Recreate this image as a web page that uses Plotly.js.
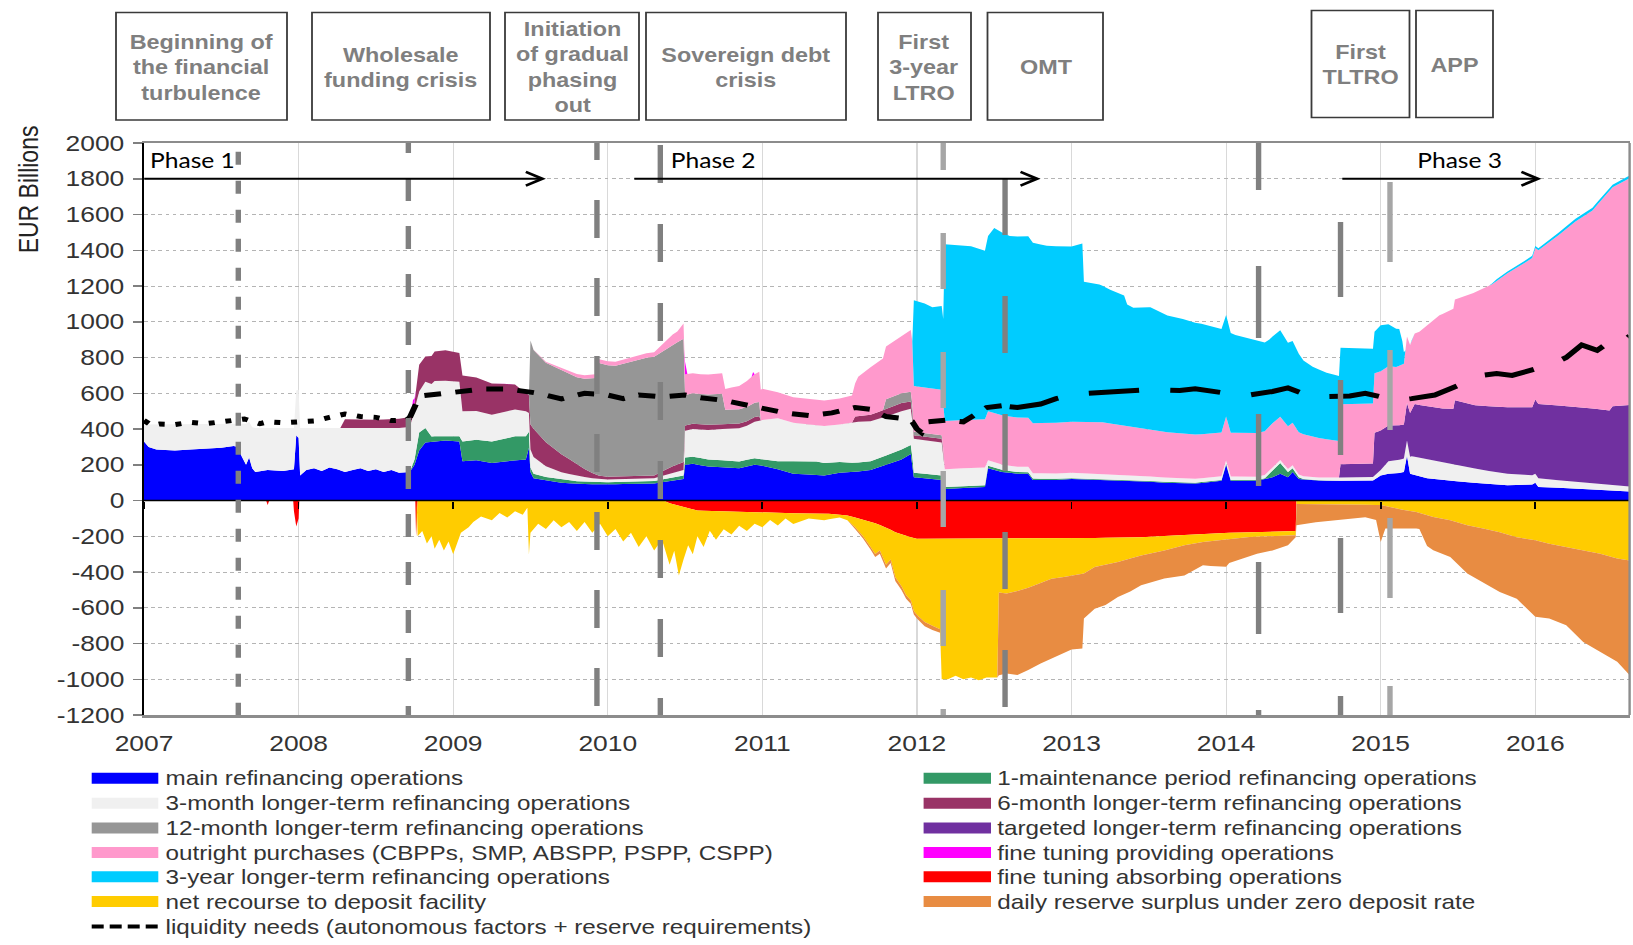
<!DOCTYPE html>
<html><head><meta charset="utf-8">
<script src="https://cdn.plot.ly/plotly-3.0.1.min.js"></script>
<style>
html,body{margin:0;padding:0;overflow:hidden;background:#fff;width:1633px;height:945px}
#wrap{width:1361px;height:945px;transform:scaleX(1.2);transform-origin:0 0}
#chart{width:1361px;height:945px}
</style></head><body><div id="wrap"><div id="chart"></div></div>
<script>
// ---------------- DATA (EUR billions, x = decimal year) ----------------
const yearTicks = [2007,2008,2009,2010,2011,2012,2013,2014,2015,2016];
const yTicks = [-1200,-1000,-800,-600,-400,-200,0,200,400,600,800,1000,1200,1400,1600,1800,2000];

const mroPts = [[2007.00,330],[2007.03,300],[2007.08,285],[2007.2,280],[2007.3,285],[2007.4,290],[2007.5,295],[2007.58,305],[2007.61,300],[2007.63,250],[2007.66,200],[2007.68,240],[2007.70,180],[2007.72,160],[2007.8,170],[2007.9,165],[2007.97,175],[2007.985,365],[2008.0,350],[2008.01,140],[2008.05,170],[2008.1,180],[2008.15,165],[2008.2,185],[2008.25,175],[2008.3,160],[2008.35,170],[2008.4,180],[2008.45,165],[2008.5,175],[2008.55,160],[2008.6,170],[2008.65,155],[2008.70,160],[2008.72,160],[2008.75,200],[2008.78,280],[2008.82,325],[2008.88,330],[2008.95,335],[2009.04,330],[2009.06,220],[2009.15,225],[2009.25,210],[2009.35,220],[2009.47,230],[2009.49,295],[2009.50,160],[2009.52,125],[2009.6,112],[2009.7,100],[2009.8,93],[2009.95,90],[2010.1,92],[2010.3,95],[2010.4,110],[2010.49,120],[2010.50,200],[2010.55,205],[2010.65,190],[2010.75,185],[2010.85,180],[2010.95,200],[2011.0,195],[2011.1,175],[2011.2,150],[2011.3,145],[2011.4,140],[2011.5,155],[2011.6,160],[2011.7,170],[2011.8,200],[2011.9,230],[2011.96,260],[2011.98,130],[2012.1,120],[2012.16,115],[2012.18,65],[2012.3,70],[2012.44,75],[2012.46,180],[2012.55,160],[2012.65,150],[2012.72,150],[2012.75,115],[2012.9,115],[2013.0,120],[2013.2,115],[2013.4,110],[2013.6,100],[2013.8,95],[2013.97,110],[2014.0,200],[2014.03,110],[2014.2,110],[2014.3,130],[2014.35,150],[2014.4,130],[2014.43,160],[2014.47,120],[2014.56,112],[2014.72,110],[2014.95,112],[2015.0,140],[2015.05,150],[2015.1,150],[2015.15,160],[2015.17,250],[2015.19,150],[2015.3,125],[2015.4,115],[2015.6,100],[2015.8,85],[2015.98,90],[2016.0,100],[2016.02,75],[2016.2,70],[2016.4,60],[2016.61,50]];

const oneMpPts = [[2007.0,0],[2008.72,0],[2008.75,30],[2008.78,100],[2008.82,80],[2008.86,30],[2008.95,25],[2009.04,30],[2009.06,110],[2009.25,120],[2009.40,135],[2009.47,130],[2009.49,90],[2009.50,25],[2009.6,20],[2009.8,15],[2010.0,12],[2010.4,15],[2010.49,20],[2010.50,40],[2010.8,40],[2011.0,35],[2011.1,45],[2011.2,70],[2011.35,75],[2011.5,60],[2011.6,50],[2011.75,50],[2011.9,55],[2011.97,50],[2011.98,25],[2012.16,25],[2012.18,10],[2012.44,10],[2012.46,15],[2012.6,10],[2012.8,7],[2013.0,5],[2014.25,5],[2014.3,40],[2014.35,60],[2014.4,30],[2014.45,15],[2014.5,3],[2014.7,0],[2016.61,0]];

const ltro3mPts = [[2007.0,95],[2007.03,125],[2007.08,140],[2007.2,145],[2007.3,140],[2007.4,135],[2007.5,130],[2007.58,120],[2007.61,130],[2007.63,180],[2007.66,230],[2007.68,200],[2007.70,230],[2007.72,245],[2007.8,235],[2007.9,240],[2007.97,230],[2007.985,250],[2008.0,270],[2008.01,265],[2008.05,235],[2008.1,225],[2008.15,240],[2008.2,220],[2008.25,230],[2008.3,245],[2008.35,235],[2008.4,225],[2008.45,240],[2008.5,230],[2008.55,245],[2008.6,235],[2008.65,250],[2008.72,250],[2008.75,280],[2008.78,230],[2008.82,260],[2008.88,310],[2008.95,310],[2009.04,305],[2009.06,170],[2009.25,150],[2009.40,150],[2009.47,140],[2009.49,105],[2009.50,100],[2009.52,95],[2009.6,60],[2009.7,40],[2009.8,30],[2009.9,20],[2010.0,15],[2010.3,15],[2010.4,25],[2010.49,30],[2010.50,150],[2010.6,160],[2010.75,175],[2010.9,190],[2011.0,220],[2011.1,240],[2011.2,215],[2011.35,205],[2011.5,210],[2011.6,230],[2011.75,220],[2011.9,215],[2011.97,200],[2011.98,190],[2012.16,185],[2012.18,100],[2012.44,100],[2012.46,30],[2013.0,30],[2013.5,25],[2014.0,20],[2014.5,15],[2014.72,18],[2014.95,20],[2015.0,30],[2015.05,70],[2015.15,75],[2015.2,100],[2015.3,105],[2015.45,95],[2015.6,80],[2015.8,65],[2016.0,50],[2016.2,40],[2016.4,35],[2016.61,28]];

const ltro6mPts = [[2007.0,0],[2008.27,0],[2008.30,50],[2008.45,45],[2008.6,50],[2008.72,55],[2008.75,40],[2008.78,150],[2008.82,140],[2008.88,165],[2008.95,170],[2009.04,160],[2009.06,200],[2009.25,175],[2009.40,140],[2009.47,100],[2009.49,100],[2009.50,140],[2009.52,158],[2009.6,134],[2009.75,84],[2009.85,45],[2009.93,20],[2010.0,15],[2010.3,15],[2010.4,35],[2010.49,45],[2010.50,30],[2010.98,25],[2010.99,0],[2011.58,0],[2011.6,30],[2011.75,40],[2011.9,45],[2011.97,40],[2011.98,20],[2012.17,20],[2012.18,0],[2016.61,0]];

const ltro12mPts = [[2007.0,0],[2009.49,0],[2009.50,470],[2009.52,440],[2009.6,445],[2009.7,470],[2009.78,480],[2009.85,505],[2009.92,540],[2009.94,630],[2010.05,620],[2010.15,640],[2010.25,660],[2010.35,670],[2010.42,680],[2010.49,690],[2010.50,170],[2010.74,170],[2010.76,80],[2010.98,80],[2010.99,0],[2011.78,0],[2011.80,55],[2011.97,55],[2011.98,20],[2012.17,20],[2012.18,0],[2016.61,0]];

const tltroPts = [[2007.0,0],[2014.73,0],[2014.74,75],[2014.95,75],[2014.96,240],[2015.05,200],[2015.15,190],[2015.17,210],[2015.22,295],[2015.38,298],[2015.47,310],[2015.48,360],[2015.6,354],[2015.82,372],[2015.98,380],[2016.0,415],[2016.26,419],[2016.48,415],[2016.5,440],[2016.61,456]];

const outrightPts = [[2007.0,0],[2009.50,0],[2009.6,5],[2009.7,12],[2009.8,18],[2009.93,20],[2010.0,22],[2010.2,25],[2010.3,25],[2010.35,40],[2010.4,55],[2010.45,60],[2010.49,85],[2010.50,115],[2010.6,110],[2010.75,115],[2010.85,130],[2011.0,175],[2011.1,145],[2011.3,140],[2011.5,145],[2011.58,150],[2011.62,220],[2011.7,265],[2011.8,295],[2011.9,320],[2011.97,350],[2011.98,255],[2012.17,255],[2012.18,270],[2012.44,270],[2012.46,275],[2012.72,275],[2012.75,280],[2013.2,290],[2013.4,270],[2013.6,255],[2013.84,245],[2014.3,245],[2014.4,240],[2014.5,235],[2014.6,220],[2014.73,205],[2014.74,335],[2014.95,335],[2014.96,332],[2015.1,330],[2015.15,340],[2015.17,372],[2015.25,409],[2015.38,521],[2015.49,568],[2015.61,632],[2015.72,684],[2015.82,750],[2015.93,807],[2016.01,853],[2016.15,953],[2016.26,1037],[2016.37,1108],[2016.48,1232],[2016.5,1225],[2016.61,1269]];

const ltro3yPts = [[2007.0,0],[2011.97,0],[2011.98,480],[2012.05,470],[2012.1,455],[2012.17,470],[2012.18,988],[2012.35,970],[2012.44,942],[2012.46,980],[2012.5,1035],[2012.6,1010],[2012.72,1015],[2012.84,992],[2013.0,980],[2013.07,998],[2013.08,784],[2013.18,770],[2013.25,748],[2013.34,728],[2013.36,680],[2013.4,668],[2013.51,685],[2013.62,653],[2013.72,640],[2013.84,619],[2013.97,579],[2014.06,546],[2014.17,523],[2014.28,486],[2014.35,483],[2014.46,447],[2014.5,413],[2014.56,393],[2014.65,372],[2014.73,364],[2014.74,316],[2014.95,307],[2014.96,232],[2015.0,257],[2015.05,235],[2015.12,205],[2015.14,130],[2015.16,0],[2015.7,0],[2015.75,10],[2016.0,12],[2016.3,15],[2016.61,15]];

const ftProvPts = [[2007.0,0],[2007.605,0],[2007.61,60],[2007.62,0],[2008.73,0],[2008.74,40],[2008.76,0],[2010.495,0],[2010.50,70],[2010.515,0],[2010.93,0],[2010.94,20],[2010.95,0],[2016.61,0]];

const ftAbsPts = [[2007.0,0],[2007.79,0],[2007.80,-25],[2007.81,0],[2007.965,0],[2007.97,-60],[2007.985,-145],[2008.0,-100],[2008.005,0],[2008.755,0],[2008.76,-200],[2008.765,0],[2010.36,0],[2010.4,-15],[2010.5,-40],[2010.56,-56],[2010.7,-60],[2011.0,-68],[2011.43,-74],[2011.55,-84],[2011.62,-100],[2011.71,-121],[2011.8,-150],[2011.86,-177],[2011.93,-200],[2012.0,-214],[2012.58,-214],[2013.0,-212],[2013.15,-210],[2013.45,-205],[2013.73,-192],[2013.9,-186],[2014.02,-180],[2014.31,-177],[2014.45,-170],[2014.455,0],[2016.61,0]];

const depositPts = [[2007.0,0],[2008.765,0],[2008.77,-200],[2008.80,-170],[2008.83,-240],[2008.86,-200],[2008.88,-270],[2008.91,-220],[2008.94,-280],[2008.97,-230],[2009.0,-300],[2009.02,-250],[2009.05,-180],[2009.1,-150],[2009.13,-120],[2009.18,-90],[2009.25,-110],[2009.3,-70],[2009.35,-95],[2009.4,-60],[2009.45,-80],[2009.48,-40],[2009.49,-300],[2009.5,-180],[2009.55,-130],[2009.6,-160],[2009.65,-110],[2009.7,-150],[2009.75,-120],[2009.8,-170],[2009.85,-120],[2009.9,-180],[2009.95,-130],[2010.0,-200],[2010.05,-160],[2010.1,-230],[2010.15,-180],[2010.2,-260],[2010.25,-200],[2010.3,-280],[2010.35,-220],[2010.4,-345],[2010.43,-258],[2010.46,-390],[2010.49,-292],[2010.52,-205],[2010.55,-247],[2010.58,-144],[2010.62,-203],[2010.66,-111],[2010.7,-160],[2010.75,-99],[2010.8,-128],[2010.85,-77],[2010.9,-105],[2010.95,-63],[2011.0,-82],[2011.05,-41],[2011.1,-71],[2011.15,-30],[2011.2,-60],[2011.3,-29],[2011.4,-37],[2011.5,-15],[2011.55,-26],[2011.6,-54],[2011.65,-92],[2011.7,-141],[2011.73,-172],[2011.76,-143],[2011.8,-210],[2011.83,-166],[2011.86,-253],[2011.9,-290],[2011.93,-330],[2011.96,-352],[2011.98,-408],[2012.0,-426],[2012.05,-466],[2012.1,-486],[2012.15,-506],[2012.16,-786],[2012.2,-786],[2012.25,-766],[2012.3,-786],[2012.35,-776],[2012.4,-791],[2012.45,-776],[2012.52,-776],[2012.53,-301],[2012.58,-306],[2012.7,-282],[2012.87,-225],[2012.95,-216],[2013.08,-198],[2013.15,-162],[2013.3,-137],[2013.45,-102],[2013.6,-81],[2013.73,-59],[2013.85,-45],[2014.02,-34],[2014.15,-26],[2014.31,-23],[2014.45,-25],[2014.455,-20],[2014.7,-20],[2015.0,-25],[2015.1,-46],[2015.23,-65],[2015.34,-93],[2015.45,-111],[2015.56,-139],[2015.67,-158],[2015.77,-177],[2015.88,-205],[2016.0,-223],[2016.09,-242],[2016.2,-260],[2016.31,-279],[2016.42,-298],[2016.53,-325],[2016.61,-335]];

const surplusPts = [[2007.0,0],[2011.55,0],[2011.6,-10],[2011.7,-15],[2011.8,-20],[2011.9,-20],[2011.98,-20],[2012.1,-25],[2012.15,-20],[2012.16,0],[2012.52,0],[2012.53,-462],[2012.58,-448],[2012.65,-470],[2012.72,-459],[2012.8,-451],[2012.87,-447],[2012.99,-412],[2013.07,-418],[2013.08,-251],[2013.15,-233],[2013.22,-225],[2013.3,-196],[2013.38,-185],[2013.45,-167],[2013.6,-158],[2013.73,-168],[2013.85,-130],[2014.0,-155],[2014.02,-136],[2014.1,-117],[2014.2,-95],[2014.3,-79],[2014.4,-54],[2014.45,-10],[2014.455,-119],[2014.58,-101],[2014.7,-91],[2014.8,-80],[2014.9,-70],[2014.97,-85],[2015.0,-207],[2015.03,-125],[2015.15,-100],[2015.25,-90],[2015.3,-172],[2015.34,-186],[2015.45,-205],[2015.56,-270],[2015.67,-307],[2015.77,-335],[2015.88,-344],[2015.96,-403],[2016.0,-428],[2016.09,-418],[2016.2,-438],[2016.31,-512],[2016.42,-549],[2016.53,-577],[2016.59,-626],[2016.61,-642]];

const liquidityPts = [[2007.0,447],[2007.05,420],[2007.1,428],[2007.2,425],[2007.3,437],[2007.4,430],[2007.5,440],[2007.58,447],[2007.65,456],[2007.75,430],[2007.8,440],[2007.9,435],[2008.0,437],[2008.1,445],[2008.2,465],[2008.3,484],[2008.4,470],[2008.5,465],[2008.6,447],[2008.7,450],[2008.72,465],[2008.77,560],[2008.8,586],[2008.9,596],[2009.05,605],[2009.2,624],[2009.35,624],[2009.45,614],[2009.55,600],[2009.7,568],[2009.85,600],[2010.0,590],[2010.1,570],[2010.2,590],[2010.35,580],[2010.5,590],[2010.6,575],[2010.75,560],[2010.9,535],[2011.0,520],[2011.15,490],[2011.3,475],[2011.45,490],[2011.6,520],[2011.7,510],[2011.8,470],[2011.9,460],[2011.97,440],[2012.0,400],[2012.03,380],[2012.07,440],[2012.2,450],[2012.3,440],[2012.45,520],[2012.55,530],[2012.6,525],[2012.65,520],[2012.8,540],[2012.9,570],[2013.0,590],[2013.1,600],[2013.3,610],[2013.5,620],[2013.7,615],[2013.8,625],[2014.0,600],[2014.15,590],[2014.3,610],[2014.4,630],[2014.55,580],[2014.7,580],[2014.8,585],[2014.9,600],[2015.1,560],[2015.2,570],[2015.35,590],[2015.55,660],[2015.65,700],[2015.75,710],[2015.85,700],[2016.1,760],[2016.2,800],[2016.3,870],[2016.4,840],[2016.5,900],[2016.55,880],[2016.61,920]];

const eventYears = [2007.61, 2008.71, 2009.93, 2010.34, 2012.17, 2012.57, 2014.21, 2014.74, 2015.06];
const boxLabels = ['Beginning of<br>the financial<br>turbulence','Wholesale<br>funding crisis','Initiation<br>of gradual<br>phasing<br>out','Sovereign debt<br>crisis','First<br>3-year<br>LTRO','OMT','First<br>TLTRO','APP'];
const phaseLabels = ['Phase 1','Phase 2','Phase 3'];
const phaseFrom = [2006.99, 2010.16, 2014.74];
const phaseTo = [2009.60, 2012.80, 2016.04];
const phaseTextX = [2007.025, 2010.39, 2015.22];

// ---------------- SERIES TABLE ----------------
const series = [
  {name:'main refinancing operations', pts:mroPts, color:'#0000ff', group:'pos', col:0, row:0},
  {name:'1-maintenance period refinancing operations', pts:oneMpPts, color:'#339966', group:'pos', col:1, row:0},
  {name:'3-month longer-term refinancing operations', pts:ltro3mPts, color:'#f0f0f0', group:'pos', col:0, row:1},
  {name:'6-month longer-term refinancing operations', pts:ltro6mPts, color:'#993366', group:'pos', col:1, row:1},
  {name:'12-month longer-term refinancing operations', pts:ltro12mPts, color:'#969696', group:'pos', col:0, row:2},
  {name:'targeted longer-term refinancing operations', pts:tltroPts, color:'#7030a0', group:'pos', col:1, row:2},
  {name:'outright purchases (CBPPs, SMP, ABSPP, PSPP, CSPP)', pts:outrightPts, color:'#ff99cc', group:'pos', col:0, row:3},
  {name:'3-year longer-term refinancing operations', pts:ltro3yPts, color:'#00ccff', group:'pos', col:0, row:4},
  {name:'fine tuning providing operations', pts:ftProvPts, color:'#ff00ff', group:'pos', col:1, row:3},
  {name:'fine tuning absorbing operations', pts:ftAbsPts, color:'#ff0000', group:'neg', col:1, row:4},
  {name:'net recourse to deposit facility', pts:depositPts, color:'#ffcc00', group:'neg', col:0, row:5},
  {name:'daily reserve surplus under zero deposit rate', pts:surplusPts, color:'#e88c42', group:'neg', col:1, row:5}
];
const liquidityName = 'liquidity needs (autonomous factors + reserve requirements)';

// ---------------- LAYOUT GEOMETRY ----------------
const W = 1361, H = 945, M = {l:120, r:3, t:143, b:230};
const PW = W - M.l - M.r, PH = H - M.t - M.b;
const SX = 1.2; // page is stretched horizontally
const px2x = px => (px / SX - M.l) / PW;     // reference-image x (px) -> paper
const py2y = py => (H - M.b - py) / PH;       // reference-image y (px) -> paper
const py2v = py => 2000 - (py - M.t) * 3200 / PH; // y px -> data value

const FONT = 'Liberation Sans, Arial, sans-serif';

const traces = [];
series.forEach(s => {
  traces.push({
    type:'scatter', mode:'lines', name:s.name,
    x:s.pts.map(p=>p[0]), y:s.pts.map(p=>p[1]),
    stackgroup:s.group, stackgaps:'interpolate',
    line:{width:0, color:s.color}, fillcolor:s.color,
    showlegend:false, hoverinfo:'skip'
  });
});
// liquidity needs, dashed line in three styled segments
const liqSegs = [{from:2007.0,to:2008.72,dash:'5px,9px'},{from:2008.72,to:2012.6,dash:'14px,12px'},{from:2012.6,to:2016.61,dash:'42px,26px'}];
liqSegs.forEach(sg => {
  const pts = liquidityPts.filter(p => p[0] >= sg.from && p[0] <= sg.to);
  traces.push({type:'scatter', mode:'lines', name:liquidityName, x:pts.map(p=>p[0]), y:pts.map(p=>p[1]),
    line:{color:'#000', width:5, dash:sg.dash}, showlegend:false, hoverinfo:'skip'});
});
traces.push({type:'scatter', x:[], y:[], xaxis:'x2', showlegend:false});

const shapes = [];
shapes.push({type:'line', xref:'paper', yref:'y', x0:0, x1:1, y0:0, y1:0, line:{color:'#000', width:1.5}, layer:'above'});
shapes.push({type:'line', xref:'paper', yref:'paper', x0:1, x1:1, y0:0, y1:1, line:{color:'#8c8c8c', width:2}});
const evLight = [false,false,false,false,true,false,false,false,true];
const evDash = ['13px,16px','23px,25px','38px,40px','38px,41px','56px,63px','57px,61px','72px,76px','75px,83px','80px,88px'];
const evStartPx = [151.7,130,122,145,114,178,118,222,182];
eventYears.forEach((yr,i) => {
  shapes.push({type:'line', xref:'x', yref:'y', x0:yr, x1:yr, y0:py2v(evStartPx[i]), y1:-1300,
    line:{color: evLight[i] ? '#a6a6a6' : '#808080', width:4.5, dash:evDash[i]}, layer:'above'});
});
const boxPx = [[116,287,12.5,120],[312,490,12.5,120],[505,639,12.5,120],[646,846,12.5,120],[878,971,12.5,120],[987.5,1103,12.5,120],[1311.5,1409.5,10.5,117.5],[1416,1493,10.5,117.5]];
const annotations = [];
boxLabels.forEach((t,i) => {
  const b = boxPx[i];
  shapes.push({type:'rect', xref:'paper', yref:'paper', x0:px2x(b[0]), x1:px2x(b[1]), y0:py2y(b[3]), y1:py2y(b[2]),
    line:{color:'#3a3a3a', width:1.5}, fillcolor:'rgba(0,0,0,0)'});
  annotations.push({xref:'paper', yref:'paper', x:px2x((b[0]+b[1])/2), y:py2y((b[2]+b[3])/2 + 1), text:t, showarrow:false,
    xanchor:'center', yanchor:'middle', align:'center', font:{family:FONT, size:19.5, color:'#7f7f7f', weight:'bold'}});
});
phaseLabels.forEach((t,i) => {
  annotations.push({xref:'x', yref:'y', axref:'x', ayref:'y', x:phaseTo[i], y:1800, ax:phaseFrom[i], ay:1800, text:'',
    showarrow:true, arrowhead:5, arrowsize:1.5, arrowwidth:1.8, arrowcolor:'#000', standoff:0});
  annotations.push({xref:'x', yref:'y', x:phaseTextX[i], y:1905, text:t, showarrow:false, xanchor:'left', yanchor:'middle',
    font:{family:'Lato, Carlito, sans-serif', size:20.5, color:'#000'}});
});
annotations.push({xref:'paper', yref:'paper', x:px2x(28), y:py2y(189), text:'EUR Billions', textangle:-90, showarrow:false,
  xanchor:'center', yanchor:'middle', font:{family:FONT, size:23, color:'#222'}});
const legCols = [{sw0:91.7, sw1:158.3, tx:163.5},{sw0:923.6, sw1:991, tx:995}];
const legRows = [778.3, 803.3, 828, 852.5, 876.8, 901.5, 926.5];
const legEntries = series.map(s => ({name:s.name, color:s.color, col:s.col, row:s.row}));
legEntries.push({name:liquidityName, color:null, col:0, row:6});
legEntries.forEach(e => {
  const c = legCols[e.col], yy = legRows[e.row];
  if (e.color) {
    shapes.push({type:'rect', xref:'paper', yref:'paper', x0:px2x(c.sw0), x1:px2x(c.sw1), y0:py2y(yy+5.5), y1:py2y(yy-5.5),
      line:{width:0}, fillcolor:e.color});
  } else {
    shapes.push({type:'line', xref:'paper', yref:'paper', x0:px2x(c.sw0), x1:px2x(c.sw1), y0:py2y(yy), y1:py2y(yy),
      line:{color:'#000', width:4, dash:'10px,5px'}});
  }
  annotations.push({xref:'paper', yref:'paper', x:px2x(c.tx), y:py2y(yy), text:e.name, showarrow:false,
    xanchor:'left', yanchor:'middle', font:{family:FONT, size:20.2, color:'#333'}});
});

const layout = {
  width:W, height:H, margin:M, paper_bgcolor:'#fff', plot_bgcolor:'#fff', showlegend:false,
  xaxis:{range:[2007,2016.61], tickvals:yearTicks, ticktext:yearTicks.map(String), showgrid:true, gridcolor:'#d9d9d9', gridwidth:1,
    showline:true, mirror:true, linecolor:'#8c8c8c', linewidth:2.5, ticks:'', zeroline:false, layer:'above traces',
    tickfont:{family:FONT, size:22, color:'#333'}, ticklabelstandoff:7},
  xaxis2:{overlaying:'x', anchor:'free', position:1200/3200, range:[2007,2016.61], tickvals:yearTicks, showticklabels:false,
    ticks:'outside', ticklen:7, tickwidth:1.5, tickcolor:'#000', showgrid:false, showline:false, zeroline:false, layer:'above traces'},
  yaxis:{range:[-1200,2000], tickvals:yTicks, ticktext:yTicks.map(String), showgrid:true, gridcolor:'#b4b4b4', griddash:'dot', gridwidth:1,
    showline:true, linecolor:'#000', linewidth:2, ticks:'outside', ticklen:7, tickcolor:'#808080', tickwidth:1.5, zeroline:false,
    layer:'above traces', tickfont:{family:FONT, size:22, color:'#333'}, ticklabelstandoff:3},
  shapes:shapes, annotations:annotations
};

Plotly.newPlot('chart', traces, layout, {staticPlot:true, displayModeBar:false});
</script></body></html>
